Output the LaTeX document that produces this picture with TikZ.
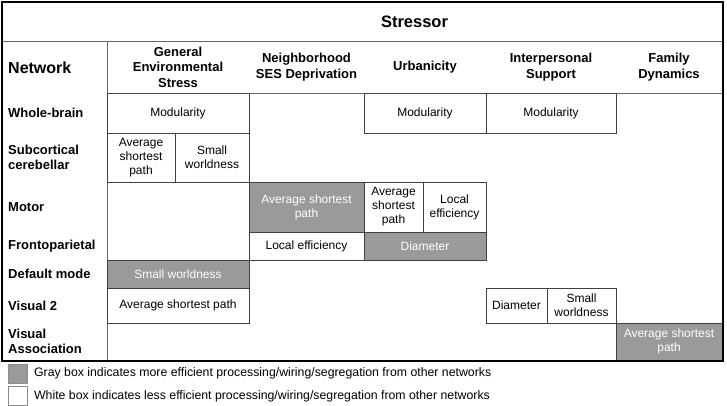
\documentclass[tikz,border=0pt]{standalone}
\usepackage{fontspec}
\setmainfont{Liberation Sans}
\definecolor{cellgray}{HTML}{9A9A9A}
\definecolor{rulegray}{HTML}{666666}

\begin{document}
\begin{tikzpicture}[x=1pt,y=-1pt,
	cell/.style={draw=black!75,line width=0.8pt,inner sep=0pt,align=center,font=\fontsize{12}{14}\selectfont},
	graycell/.style={cell,fill=cellgray,text=white},
	rowlabel/.style={anchor=west,align=left,inner sep=0pt,font=\bfseries\fontsize{13}{15.5}\selectfont},
	colhead/.style={align=center,inner sep=0pt,font=\bfseries\fontsize{13}{15.5}\selectfont},
	keybox/.style={draw=black!45,line width=0.8pt,minimum width=19pt,minimum height=19pt,inner sep=0pt},
	keytext/.style={anchor=west,inner sep=0pt,font=\fontsize{12.3}{14}\selectfont}]
	\useasboundingbox (0,0) rectangle (727,406);
	% header rules
	\draw[rulegray,line width=0.8pt] (2,41) -- (723,41);
	\draw[rulegray,line width=0.8pt] (107,41) -- (107,361);
	\draw[rulegray,line width=0.8pt] (107,93) -- (723,93);
	
	\node[inner sep=0pt,font=\bfseries\fontsize{16.5}{18}\selectfont] (stressor) at (414.5,22) {Stressor};
	\node[rowlabel,font=\bfseries\fontsize{16}{18}\selectfont] (network) at (8,68) {Network};
	
	% stressor columns
	\node[colhead] (ges) at (178,67) {General\\Environmental\\Stress};
	\node[colhead] (nsd) at (306.5,67) {Neighborhood\\SES Deprivation};
	\node[colhead] (urb) at (425,67) {Urbanicity};
	\node[colhead] (ips) at (551,67) {Interpersonal\\Support};
	\node[colhead] (fam) at (669,67) {Family\\Dynamics};
	
	% networks
	\node[rowlabel] (wb) at (8,113) {Whole-brain};
	\node[rowlabel] (sc) at (8,157.5) {Subcortical\\cerebellar};
	\node[rowlabel] (mot) at (8,207) {Motor};
	\node[rowlabel] (fp) at (8,246) {Frontoparietal};
	\node[rowlabel] (dm) at (8,274) {Default mode};
	\node[rowlabel] (vis) at (8,305.5) {Visual 2};
	\node[rowlabel] (va) at (8,341.5) {Visual\\Association};
	
	% findings
	\node[cell,minimum width=142pt,minimum height=40pt] (wbges) at (178,113) {Modularity};
	\node[cell,minimum width=122pt,minimum height=40pt] (wburb) at (425,113) {Modularity};
	\node[cell,minimum width=130pt,minimum height=40pt] (wbips) at (551,113) {Modularity};
	\node[cell,minimum width=68pt,minimum height=49pt] (scgesa) at (141,157.5) {Average\\shortest\\path};
	\node[cell,minimum width=74pt,minimum height=49pt] (scgesb) at (212,157.5) {Small\\worldness};
	\node[graycell,minimum width=115pt,minimum height=50pt] (motnsd) at (306.5,207) {Average shortest\\path};
	\node[cell,minimum width=59pt,minimum height=50pt] (moturba) at (393.5,207) {Average\\shortest\\path};
	\node[cell,minimum width=63pt,minimum height=50pt] (moturbb) at (454.5,207) {Local\\efficiency};
	\node[cell,minimum width=115pt,minimum height=28pt] (fpnsd) at (306.5,246) {Local efficiency};
	\node[graycell,minimum width=122pt,minimum height=28pt] (fpurb) at (425,246) {Diameter};
	\node[graycell,minimum width=142pt,minimum height=28pt] (dmges) at (178,274) {Small worldness};
	\node[cell,minimum width=142pt,minimum height=35pt] (visges) at (178,305.5) {Average shortest path};
	\node[cell,minimum width=61pt,minimum height=35pt] (visipsa) at (516.5,305.5) {Diameter};
	\node[cell,minimum width=69pt,minimum height=35pt] (visipsb) at (581.5,305.5) {Small\\worldness};
	\node[graycell,minimum width=106pt,minimum height=37pt] (vafam) at (669,341.5) {Average shortest\\path};
	
	% frame
	\draw[line width=1.6pt] (2,2) rectangle (723,361);
	
	% key
	\node[keybox,fill=cellgray] (graykey) at (17.5,373.5) {};
	\node[keytext] (graynote) at ([xshift=6.5pt]graykey.east) {Gray box indicates more efficient processing/wiring/segregation from other networks};
	\node[keybox,fill=white] (whitekey) at (17.5,396) {};
	\node[keytext] (whitenote) at ([xshift=6.5pt]whitekey.east) {White box indicates less efficient processing/wiring/segregation from other networks};
	
\end{tikzpicture}
\end{document}
